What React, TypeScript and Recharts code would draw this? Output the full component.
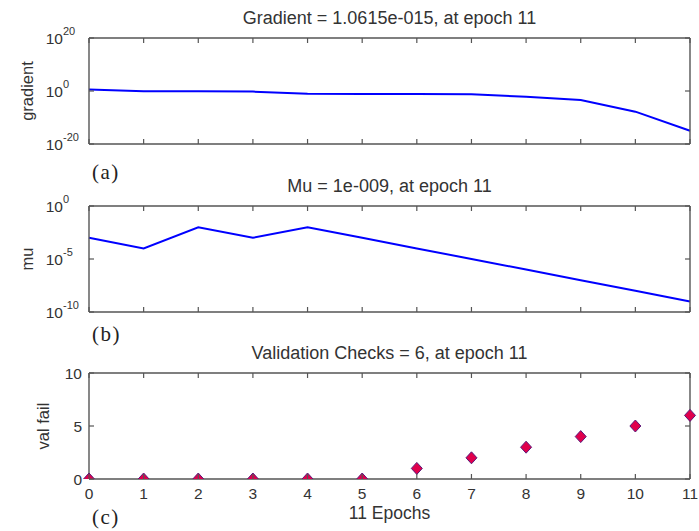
import React from "react";
import { ComposedChart, Line, XAxis, YAxis } from "recharts";

const epochs = [0, 1, 2, 3, 4, 5, 6, 7, 8, 9, 10, 11];
const gradient = [3.7, 0.8, 0.8, 0.6, 0.1, 0.074, 0.07, 0.057, 7e-3, 4e-4, 1.6e-8, 1.0615e-15];
const mu = [1e-3, 1e-4, 1e-2, 1e-3, 1e-2, 1e-3, 1e-4, 1e-5, 1e-6, 1e-7, 1e-8, 1e-9];
const valFail = [0, 0, 0, 0, 0, 0, 1, 2, 3, 4, 5, 6];

const gradTicks = [1e-20, 1, 1e20];
const muTicks = [1e-10, 1e-5, 1];
const valTicks = [0, 5, 10];

const titles = [
  "Gradient = 1.0615e-015, at epoch 11",
  "Mu = 1e-009, at epoch 11",
  "Validation Checks = 6, at epoch 11",
];

const gradData = epochs.map((e, i) => ({ epoch: e, value: gradient[i] }));
const muData = epochs.map((e, i) => ({ epoch: e, value: mu[i] }));
const valData = epochs.map((e, i) => ({ epoch: e, value: valFail[i] }));

const W = 699;
const LEFT = 89;
const RIGHT = 690;
const PH = 106; // plot height
const TOPS = [38, 206, 373];
const TICK = 5;
const BOX = "#555";
const TXT = "#333";
const FONT = "'Liberation Sans', Arial, sans-serif";
const axisStyle = { stroke: BOX, strokeWidth: 1.4 };

function makeBottomTick(showLabel: boolean) {
  return (props: any) => {
    const { x, y, payload } = props;
    return (
      <g>
        <line x1={x} x2={x} y1={y} y2={y - TICK} stroke={BOX} strokeWidth={1.2} />
        {showLabel && (
          <text x={x} y={y + 20} textAnchor="middle" fontSize={15.5} fill={TXT} fontFamily={FONT}>
            {payload.value}
          </text>
        )}
      </g>
    );
  };
}

const TopTick = (props: any) => {
  const { x, y } = props;
  return <line x1={x} x2={x} y1={y} y2={y + TICK} stroke={BOX} strokeWidth={1.2} />;
};

const RightTick = (props: any) => {
  const { x, y } = props;
  return <line x1={x - TICK} x2={x} y1={y} y2={y} stroke={BOX} strokeWidth={1.2} />;
};

const PowTick = (props: any) => {
  const { y, payload } = props;
  const exp = Math.round(Math.log10(payload.value));
  return (
    <g fontFamily={FONT} fill={TXT}>
      <line x1={LEFT} x2={LEFT + TICK} y1={y} y2={y} stroke={BOX} strokeWidth={1.2} />
      <text x={63} y={y + 6} textAnchor="end" fontSize={15.5}>10</text>
      <text x={63} y={y - 3} textAnchor="start" fontSize={11}>{exp}</text>
    </g>
  );
};

const LinTick = (props: any) => {
  const { y, payload } = props;
  return (
    <g fontFamily={FONT} fill={TXT}>
      <line x1={LEFT} x2={LEFT + TICK} y1={y} y2={y} stroke={BOX} strokeWidth={1.2} />
      <text x={82} y={y + 6} textAnchor="end" fontSize={15.5}>{payload.value}</text>
    </g>
  );
};

const Diamond = (props: any) => {
  const { cx, cy } = props;
  if (cx == null || cy == null) return null;
  return (
    <polygon
      points={`${cx},${cy - 6} ${cx + 5.5},${cy} ${cx},${cy + 6} ${cx - 5.5},${cy}`}
      fill="#e0004c"
      stroke="#5a1a7a"
      strokeWidth={1}
    />
  );
};

function Panel({
  idx,
  data,
  log,
  domain,
  ticks,
  lineOn,
  xLabels,
}: {
  idx: number;
  data: any[];
  log: boolean;
  domain: [number, number];
  ticks: number[];
  lineOn: boolean;
  xLabels: boolean;
}) {
  const top = TOPS[idx];
  const BOT = 30;
  const H = top + PH + BOT;
  const scale = log ? "log" : "linear";
  return (
    <div style={{ position: "absolute", left: 0, top: 0 }}>
      <ComposedChart
        width={W}
        height={H}
        data={data}
        margin={{ top: top - 1, right: 0, bottom: 0, left: 0 }}
      >
        <XAxis
          dataKey="epoch"
          type="number"
          domain={[0, 11]}
          ticks={epochs}
          height={BOT}
          axisLine={axisStyle}
          tickLine={false}
          tickSize={0}
          tickMargin={0}
          interval={0}
          tick={makeBottomTick(xLabels)}
        />
        <XAxis
          xAxisId="top"
          orientation="top"
          dataKey="epoch"
          type="number"
          domain={[0, 11]}
          ticks={epochs}
          height={1}
          axisLine={axisStyle}
          tickLine={false}
          tickSize={0}
          tickMargin={0}
          interval={0}
          tick={<TopTick />}
        />
        <YAxis
          type="number"
          scale={scale}
          domain={domain}
          ticks={ticks}
          allowDataOverflow
          width={LEFT}
          axisLine={axisStyle}
          tickLine={false}
          tickSize={0}
          tickMargin={0}
          interval={0}
          tick={log ? <PowTick /> : <LinTick />}
        />
        <YAxis
          yAxisId="right"
          orientation="right"
          type="number"
          scale={scale}
          domain={domain}
          ticks={ticks}
          allowDataOverflow
          width={W - RIGHT}
          axisLine={axisStyle}
          tickLine={false}
          tickSize={0}
          tickMargin={0}
          interval={0}
          tick={<RightTick />}
        />
        {lineOn ? (
          <Line
            type="linear"
            dataKey="value"
            stroke="#0000ff"
            strokeWidth={2}
            dot={false}
            isAnimationActive={false}
          />
        ) : (
          <Line
            type="linear"
            dataKey="value"
            stroke="none"
            dot={<Diamond />}
            isAnimationActive={false}
          />
        )}
      </ComposedChart>
    </div>
  );
}

const abs = (s: React.CSSProperties): React.CSSProperties => ({
  position: "absolute",
  fontFamily: FONT,
  color: TXT,
  whiteSpace: "nowrap",
  ...s,
});

export default function App() {
  const cx = (LEFT + RIGHT) / 2;
  return (
    <div style={{ position: "absolute", left: 0, top: 0, width: W, height: 531, background: "#fff", overflow: "hidden" }}>
      <Panel idx={0} data={gradData} log domain={[1e-20, 1e20]} ticks={gradTicks} lineOn xLabels={false} />
      <Panel idx={1} data={muData} log domain={[1e-10, 1]} ticks={muTicks} lineOn xLabels={false} />
      <Panel idx={2} data={valData} log={false} domain={[0, 10]} ticks={valTicks} lineOn={false} xLabels />

      {titles.map((t, i) => (
        <div
          key={t}
          style={abs({ left: cx - 200, width: 400, textAlign: "center", top: TOPS[i] - 30, fontSize: 18, lineHeight: "20px" })}
        >
          {t}
        </div>
      ))}

      <div style={abs({ left: 27 - 40, top: 91 - 10, width: 80, textAlign: "center", fontSize: 16.5, lineHeight: "20px", transform: "rotate(-90deg)" })}>
        gradient
      </div>
      <div style={abs({ left: 27 - 40, top: 259 - 10, width: 80, textAlign: "center", fontSize: 16.5, lineHeight: "20px", transform: "rotate(-90deg)" })}>
        mu
      </div>
      <div style={abs({ left: 43 - 40, top: 426 - 10, width: 80, textAlign: "center", fontSize: 16.5, lineHeight: "20px", transform: "rotate(-90deg)" })}>
        val fail
      </div>

      {["(a)", "(b)", "(c)"].map((t, i) => (
        <div
          key={t}
          style={abs({ left: 92, top: [172, 334, 517][i] - 12, fontFamily: "'Liberation Serif', 'Times New Roman', serif", fontSize: 21, lineHeight: "24px", letterSpacing: 1.5, color: "#222" })}
        >
          {t}
        </div>
      ))}

      <div style={abs({ left: cx - 100, width: 200, textAlign: "center", top: 513 - 10, fontSize: 17.5, lineHeight: "20px" })}>
        11 Epochs
      </div>
    </div>
  );
}
